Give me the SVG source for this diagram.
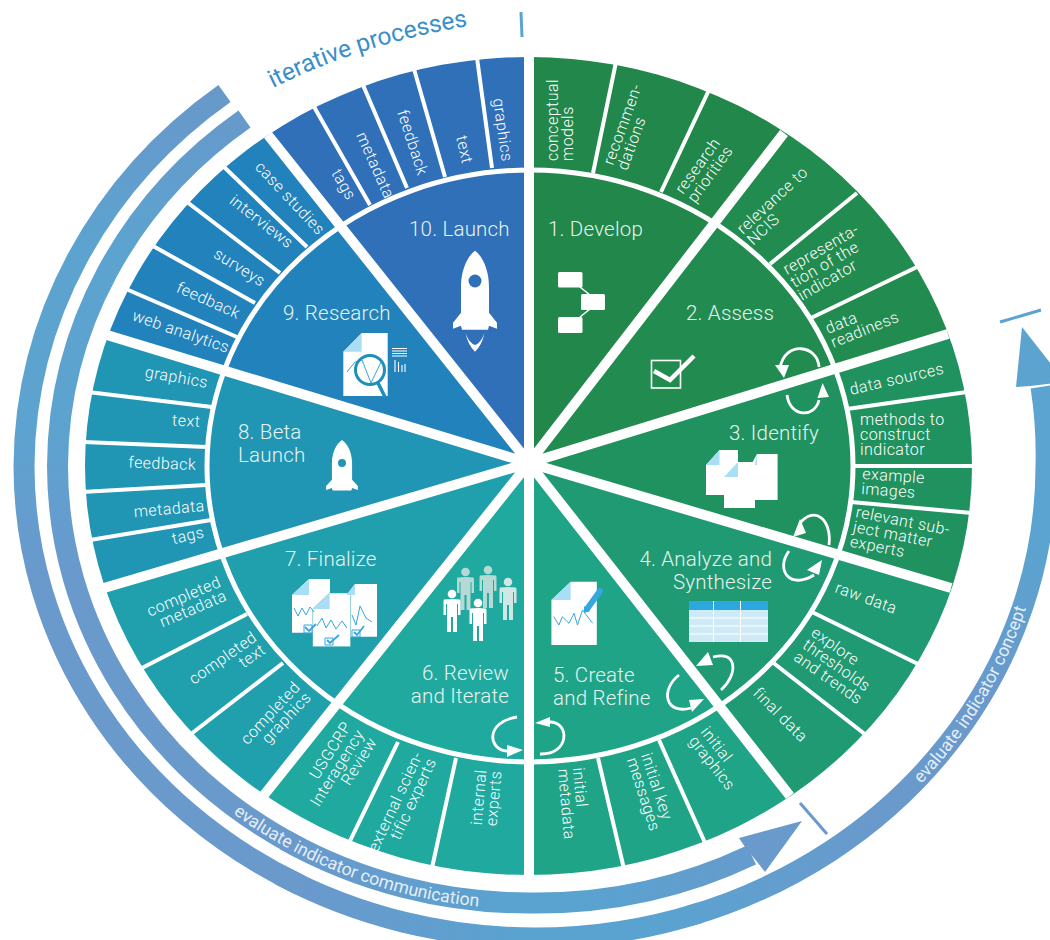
<svg xmlns="http://www.w3.org/2000/svg" xmlns:xlink="http://www.w3.org/1999/xlink" width="1050" height="940" viewBox="0 0 1050 940">
<style>
text{font-family:"Roboto","Liberation Sans",sans-serif;}
.t{font-size:20.5px;font-weight:300;letter-spacing:.2px;fill:#e6f3ef;}
.s{font-size:16px;font-weight:300;letter-spacing:.45px;fill:#fff;}
.e{text-anchor:end;}
.w{clip-path:url(#disc);}
.dv{stroke:#fff;stroke-width:10;fill:none;}
.sd{stroke:#fff;stroke-width:4;fill:none;}
.lp{stroke:#fff;stroke-width:2.8;fill:none;}
.ah{fill:#fff;}
.pg{fill:#fff;}
.fd{fill:#a9def6;}
.ch{fill:none;stroke:#35a7df;stroke-width:1;}
.bl{fill:none;stroke-width:21;}
.bt{font-size:17.6px;font-weight:400;fill:#e4eef7;}
</style>
<defs>
<clipPath id="disc"><ellipse cx="528.5" cy="466" rx="443.5" ry="409"/></clipPath>
<linearGradient id="gL" gradientUnits="userSpaceOnUse" x1="0" y1="90" x2="0" y2="880">
<stop offset="0" stop-color="#6898ca"/><stop offset=".2" stop-color="#5ca3d0"/><stop offset=".42" stop-color="#5ca3d0"/><stop offset=".62" stop-color="#6a99cc"/><stop offset="1" stop-color="#6a99cc"/>
</linearGradient>
<linearGradient id="gB" gradientUnits="userSpaceOnUse" x1="300" y1="0" x2="800" y2="0">
<stop offset="0" stop-color="#6a99cc"/><stop offset=".4" stop-color="#5aa2d0"/><stop offset=".6" stop-color="#5aa2d0"/><stop offset="1" stop-color="#6a99cc"/>
</linearGradient>
<linearGradient id="gO" gradientUnits="userSpaceOnUse" x1="300" y1="0" x2="700" y2="0">
<stop offset="0" stop-color="#6a99cc"/><stop offset=".55" stop-color="#5aa2d0"/><stop offset="1" stop-color="#5ba2d0"/>
</linearGradient>
<linearGradient id="gR" gradientUnits="userSpaceOnUse" x1="700" y1="940" x2="1050" y2="400">
<stop offset="0" stop-color="#5ba2d0"/><stop offset=".3" stop-color="#6a99cc"/><stop offset=".55" stop-color="#6a99cc"/><stop offset=".8" stop-color="#5ba3d0"/><stop offset="1" stop-color="#5ba3d0"/>
</linearGradient>
<path id="rk" d="M0 0C8 6 14 20 14 36L14 62L22 72L22 78L14 75L13 79L-13 79L-14 75L-22 78L-22 72L-14 62L-14 36C-14 20-8 6 0 0Z"/>
<path id="pn" d="M-8 5.5Q0 4.5 8 5.5Q8.5 6 8.5 8V21H6V10H5V38H1V23H-1V38H-5V10H-6V21H-8.5V8Q-8.5 6-8 5.5ZM4.3 0A4.3 4.3 0 1 1-4.3 0A4.3 4.3 0 1 1 4.3 0Z"/>
<path id="tp1" d="M273 88Q365 42 480 24"/>
<path id="tp2" d="M921 784A517 478 0 0 0 1048 466"/>
<path id="tp3" d="M233 813.6A477.5 443 0 0 0 529 909"/>
</defs>

<g id="node-1">
<path class="w" fill="#21874a" d="M529 463L529 -60L860.5 34Z"/>
<text class="t" x="548" y="236">1. Develop</text>
<g class="pg"><rect x="558" y="272" width="24.5" height="15.5" rx="1.5"/><rect x="581" y="294" width="24" height="16" rx="1.5"/><rect x="558" y="317" width="24.5" height="16" rx="1.5"/><path d="M580 287L590 295M580 317L590 309" stroke="#fff" stroke-width="1.6"/></g>
<text class="s" transform="translate(558 161) rotate(-90)"><tspan x="0">conceptual</tspan><tspan x="0" dy="15">models</tspan></text>
<text class="s" transform="translate(613 166) rotate(-70)"><tspan x="0">recommen-</tspan><tspan x="0" dy="15">dations</tspan></text>
<text class="s" transform="translate(683 195) rotate(-54)"><tspan x="0">research</tspan><tspan x="0" dy="15">priorities</tspan></text>
</g>

<g id="node-2">
<path class="w" fill="#228c50" d="M529 463L860.5 34L1073.7 295.3Z"/>
<text class="t" x="686" y="320">2. Assess</text>
<rect x="651.5" y="360.5" width="29" height="27.5" fill="none" stroke="#fff" stroke-width="1.6"/>
<path d="M654 371L670 380L694 356" fill="none" stroke="#fff" stroke-width="4.5"/>
<text class="s" transform="translate(743 235) rotate(-43)"><tspan x="0">relevance to</tspan><tspan x="0" dy="15">NCIS</tspan></text>
<text class="s" transform="translate(787 275) rotate(-30)"><tspan x="0">representa-</tspan><tspan x="0" dy="15">tion of the</tspan><tspan x="0" dy="15">indicator</tspan></text>
<text class="s" transform="translate(828 334) rotate(-22)"><tspan x="0">data</tspan><tspan x="0" dy="15">readiness</tspan></text>
</g>

<g id="node-3">
<path class="w" fill="#1f9260" d="M529 463L1073.7 295.3L1077.6 625.5Z"/>
<text class="t" x="729" y="440">3. Identify</text>
<g class="pg"><path d="M719.5 450H738V495H706V465Z"/><path d="M757 454H777.6V500H751V465Z"/><path d="M738 462H755V508H724V477Z"/></g>
<g class="fd"><path d="M719.5 450V465H706Z"/><path d="M757 454V465H755Z"/><path d="M738 462V477H724Z"/></g>
<text class="s" transform="translate(851 395) rotate(-13)">data sources</text>
<text class="s"><tspan x="860" y="425">methods to</tspan><tspan x="860" dy="15">construct</tspan><tspan x="860" dy="15">indicator</tspan></text>
<text class="s" transform="translate(862 479) rotate(4)"><tspan x="0">example</tspan><tspan x="0" dy="15">images</tspan></text>
<text class="s" transform="translate(855 517) rotate(11)"><tspan x="0">relevant sub-</tspan><tspan x="0" dy="15">ject matter</tspan><tspan x="0" dy="15">experts</tspan></text>
</g>

<g id="node-4">
<path class="w" fill="#1f9a72" d="M529 463L1077.6 625.5L868.3 895.9Z"/>
<text class="t e"><tspan x="772" y="566">4. Analyze and</tspan><tspan x="772" dy="23">Synthesize</tspan></text>
<rect x="689" y="601" width="79" height="41" fill="#cfeaf7"/>
<rect x="689" y="601" width="79" height="9" fill="#2ba8e0"/>
<path d="M713.5 601V642M740.5 601V642M689 618H768M689 626H768M689 634H768" stroke="#fff" stroke-width="1" fill="none"/>
<text class="s" transform="translate(834 592) rotate(20)">raw data</text>
<text class="s" transform="translate(810 635) rotate(35)"><tspan x="0">explore</tspan><tspan x="0" dy="15">thresholds</tspan><tspan x="0" dy="15">and trends</tspan></text>
<text class="s" transform="translate(752 694) rotate(45)">final data</text>
</g>

<g id="node-5">
<path class="w" fill="#20a488" d="M529 463L868.3 895.9L529 1000Z"/>
<text class="t"><tspan x="553" y="682">5. Create</tspan><tspan x="553" dy="23">and Refine</tspan></text>
<path class="pg" d="M570.7 581.7H596.8V645H551.4V600Z"/>
<path class="fd" d="M570.7 581.7V600H551.4Z"/>
<path class="ch" d="M553.8 616.7L558.9 625L562.3 616.7L569 623.3L574 613.3L577.5 625L582.5 610L592.7 623.3"/>
<path d="M600 591L587 609" stroke="#35a7df" stroke-width="6" stroke-linecap="round" fill="none"/>
<path d="M584 606L590 611L584 613Z" fill="#35a7df"/>
<text class="s" transform="translate(700 732) rotate(52)"><tspan x="0">initial</tspan><tspan x="0" dy="15">graphics</tspan></text>
<text class="s" transform="translate(641 755) rotate(72)"><tspan x="0">initial key</tspan><tspan x="0" dy="15">messages</tspan></text>
<text class="s" transform="translate(573 768) rotate(85)"><tspan x="0">initial</tspan><tspan x="0" dy="15">metadata</tspan></text>
</g>

<g id="node-6">
<path class="w" fill="#20a99f" d="M529 463L529 1000L184.5 894.6Z"/>
<text class="t e"><tspan x="509" y="680">6. Review</tspan><tspan x="509" dy="23">and Iterate</tspan></text>
<use href="#pn" x="465.5" y="572" fill="#b5dad6"/>
<use href="#pn" x="488" y="570" fill="#b5dad6"/>
<use href="#pn" x="508" y="582" fill="#d0e8e5"/>
<use href="#pn" x="452" y="594" fill="#fff"/>
<use href="#pn" x="478" y="603" fill="#fff"/>
<text class="s e" transform="translate(486.5 770) rotate(-85)"><tspan x="0">internal</tspan><tspan x="0" dy="15">experts</tspan></text>
<text class="s e" transform="translate(423 755) rotate(-65)"><tspan x="0">external scien-</tspan><tspan x="0" dy="15">tific experts</tspan></text>
<text class="s e" transform="translate(352 726) rotate(-58)"><tspan x="0">USGCRP</tspan><tspan x="0" dy="15">Interagency</tspan><tspan x="0" dy="15">Review</tspan></text>
</g>

<g id="node-7">
<path class="w" fill="#20a0ad" d="M529 463L184.5 894.6L-23.5 625.5Z"/>
<text class="t" x="285" y="566">7. Finalize</text>
<g class="pg"><path d="M309 579H330V632.7H292V595Z"/><path d="M355 584H377V636.7H346.5V595Z"/><path d="M329.6 593H350.6V646.7H312.7V609Z" stroke="#20a0ad" stroke-width=".5"/></g>
<g class="fd"><path d="M309 579V595H292Z"/><path d="M355 584V595H346.5Z"/><path d="M329.6 593V609H312.7Z"/></g>
<path class="ch" d="M294 608L298 616L302 608L306 615L310 607L314 612M317 626L322 618L326 628L331 620L336 629L342 621L347 628M352 615L356 625L360 606L366 618L372 622"/>
<path class="ch" d="M304 625H312V633H304ZM325 638H333V645H325ZM352 630H360V637H352Z"/>
<path class="ch" d="M305 627L309 631L316 624M327 640L330 643L339 635M354 632L357 635L364 626" style="stroke-width:1.8"/>
<text class="s e" transform="translate(301 688) rotate(-47)"><tspan x="0">completed</tspan><tspan x="0" dy="15">graphics</tspan></text>
<text class="s e" transform="translate(258 640) rotate(-35)"><tspan x="0">completed</tspan><tspan x="0" dy="15">text</tspan></text>
<text class="s e" transform="translate(222 586) rotate(-23)"><tspan x="0">completed</tspan><tspan x="0" dy="15">metadata</tspan></text>
</g>

<g id="node-8">
<path class="w" fill="#2095b4" d="M529 463L-23.5 625.5L-19.6 296.6Z"/>
<text class="t"><tspan x="238" y="439">8. Beta</tspan><tspan x="238" dy="23">Launch</tspan></text>
<use href="#rk" transform="translate(342 440) scale(.72 .64)" fill="#fff"/>
<circle cx="342" cy="463" r="4" fill="#2095b4"/>
<text class="s e" transform="translate(205 537) rotate(-13)">tags</text>
<text class="s e" transform="translate(205 511) rotate(-5)">metadata</text>
<text class="s e" transform="translate(196 470) rotate(2)">feedback</text>
<text class="s e" transform="translate(200 427) rotate(3)">text</text>
<text class="s e" transform="translate(207 388) rotate(10)">graphics</text>
</g>

<g id="node-9">
<path class="w" fill="#2283bc" d="M529 463L-19.6 296.6L189.7 36.6Z"/>
<text class="t" x="283" y="320">9. Research</text>
<path class="pg" d="M361.7 333H387.7V396H343.3V351.7Z"/>
<path class="fd" d="M361.7 333V351.7H343.3Z"/>
<path class="ch" d="M347 372L355 362L362 360L371 383L381 362"/>
<circle cx="370" cy="370" r="14.5" fill="none" stroke="#1f8fb8" stroke-width="3"/>
<path d="M378 383L385 397" stroke="#1f8fb8" stroke-width="3.5" fill="none"/>
<path d="M392 348.5H407M392 351H407M392 353.5H407M392 356H407M395 372V360M398.5 372V362M402 372V365M405 372V364" stroke="#fff" stroke-width="1.1" fill="none"/>
<text class="s e" transform="translate(227 353) rotate(19)">web analytics</text>
<text class="s e" transform="translate(237 319) rotate(24)">feedback</text>
<text class="s e" transform="translate(261 287) rotate(32)">surveys</text>
<text class="s e" transform="translate(288 249) rotate(38)">interviews</text>
<text class="s e" transform="translate(318 236) rotate(47)">case studies</text>
</g>

<g id="node-10">
<path class="w" fill="#2f70b8" d="M529 463L189.7 36.6L529 -60Z"/>
<text class="t" x="409" y="236">10. Launch</text>
<use href="#rk" transform="translate(475 250.7)" fill="#fff"/>
<circle cx="475" cy="281" r="6.5" fill="#2f70b8"/>
<path d="M465.5 333Q468 345 475 351.7Q482 345 484.5 333Q481 343 475 345Q469 343 465.5 333Z" fill="#fff"/>
<text class="s" transform="translate(331 173) rotate(60)">tags</text>
<text class="s" transform="translate(356 135) rotate(66)">metadata</text>
<text class="s" transform="translate(397 112) rotate(72)">feedback</text>
<text class="s" transform="translate(456 137) rotate(77)">text</text>
<text class="s" transform="translate(493 99) rotate(82)">graphics</text>
</g>

<g id="dividers">
<ellipse cx="530" cy="466" rx="323" ry="296" fill="none" stroke="#fff" stroke-width="5"/>
<path class="sd" d="M616 62L593 173M709 90L661 192M857 193L770 264M917 267L811 318M967 392L847 409M974 466L853 466M972 513L851 502M918 664L812 612M866 735L773.5 663M706 845L659 740M624 869L598 758M432 868L456 758M349 843L398 742M191 734L283 663M140 669L247 614M90 540L211 520M82 492L206 485M83 442L207 447M88 392L212 407M126 289L237 337M153 246L255 303M187 202L280 273M223 166L307 247M313 105L370 205M363 85L407 188M414 69L445 177M477 58L492 168"/>
<path class="dv" d="M529 40V900M529 463L784 133M529 463L948 334M529 463L951 588M529 463L790 796M529 463L264 795M529 463L104 588M529 463L107 335M529 463L268 135"/>
</g>

<g id="connectors">
<path class="lp" d="M819 367C818 345 785 340 780 368"/><path class="ah" d="M775 365L789 365L784 378Z"/>
<path class="lp" d="M787 395C790 418 815 418 819 400"/><path class="ah" d="M829 397L817.5 398L822.6 383Z"/>
<path class="lp" d="M829 545C832 520 815 505 800 523"/><path class="ah" d="M793 537L800 519L806 533Z"/>
<path class="lp" d="M789 551C775 570 790 590 814 575"/><path class="ah" d="M822 560L807 570L819 575Z"/>
<path class="lp" d="M721 690C738 675 738 650 713 657"/><path class="ah" d="M696 666L708 652L713 665Z"/>
<path class="lp" d="M679 675C660 690 665 715 691 708"/><path class="ah" d="M704 699L689 700L692 712Z"/>
<path class="lp" d="M540 754C570 755 570 722 550 722"/><path class="ah" d="M535 723L550 717L550 727Z"/>
<path class="lp" d="M517 717C485 722 488 750 507 751"/><path class="ah" d="M523 750L507 745L507 757Z"/>

<path class="bl" stroke="url(#gL)" d="M224.5 93.5A511 472 0 0 0 24 466A511 472 0 0 0 300 885"/>
<path class="bl" stroke="url(#gO)" d="M280 875A511 472 0 0 0 535 938A511 472 0 0 0 700 912.7"/>
<path class="bl" stroke="url(#gR)" d="M690 915.8A511 472 0 0 0 1046 466A511 472 0 0 0 1041 387"/>
<path fill="#5ca3d0" d="M1022 327L1016 387L1030.5 386L1047 384L1065 382Z"/>
<path class="bl" stroke="url(#gL)" d="M244.5 119A471.5 437 0 0 0 57.5 466A471.5 437 0 0 0 300 848"/>
<path class="bl" stroke="url(#gB)" d="M285 840A471.5 437 0 0 0 529 903A471.5 437 0 0 0 751.5 855"/>
<path fill="#6a99cc" d="M802 821L739 838L745 847L758 863L765 872Z"/>
<path d="M521 12L522 37" stroke="#5ca3d0" stroke-width="3" fill="none"/>
<path d="M1000 322L1041 310" stroke="#5ca3d0" stroke-width="3" fill="none"/>
<path d="M800 803L827 834" stroke="#6a99cc" stroke-width="3" fill="none"/>
<text style="font-size:24.5px;font-weight:400;fill:#3a8fc8"><textPath href="#tp1">iterative processes</textPath></text>
<text class="bt"><textPath href="#tp2">evaluate indicator concept</textPath></text>
<text class="bt"><textPath href="#tp3">evaluate indicator communication</textPath></text>
</g>
</svg>
